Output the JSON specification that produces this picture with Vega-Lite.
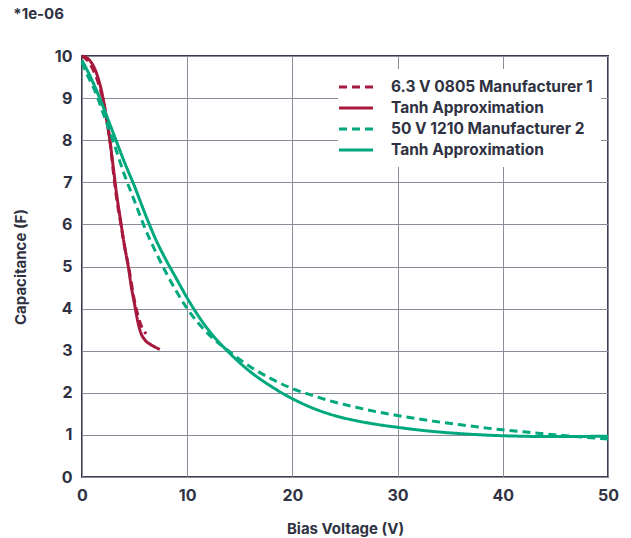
{
  "$schema": "https://vega.github.io/schema/vega-lite/v6.json",
  "width": 526,
  "height": 421,
  "autosize": "none",
  "padding": {"left": 82, "top": 56, "right": 23, "bottom": 61},
  "background": "white",
  "config": {
    "font": "Inter",
    "view": {"stroke": "#3b3e50", "strokeWidth": 2},
    "axis": {
      "labelFont": "Inter", "labelFontWeight": "bold", "labelFontSize": 16, "labelColor": "#2f3242",
      "titleFont": "Inter", "titleFontWeight": "bold", "titleFontSize": 15, "titleColor": "#2f3242",
      "gridColor": "#8a8c9a", "gridWidth": 1, "gridOpacity": 1, "domain": false, "ticks": false, "labelFlush": false
    },
    "legend": {"labelFont": "Inter", "labelFontWeight": "bold", "labelFontSize": 15.5, "labelColor": "#2f3242", "labelLimit": 400}
  },
  "title": {"text": "*1e-06", "anchor": "start", "frame": "bounds", "font": "Inter", "fontSize": 15, "fontWeight": "bold", "color": "#2f3242", "offset": 26},
  "data": {"values": [
    {"s":"t1","v":0,"c":10},{"s":"t1","v":0.5,"c":9.95},{"s":"t1","v":1,"c":9.8},{"s":"t1","v":1.5,"c":9.5},{"s":"t1","v":2,"c":9.0},{"s":"t1","v":2.4,"c":8.4},{"s":"t1","v":2.7,"c":7.9},{"s":"t1","v":3.0,"c":7.3},{"s":"t1","v":3.3,"c":6.7},{"s":"t1","v":3.6,"c":6.2},{"s":"t1","v":4.0,"c":5.55},{"s":"t1","v":4.4,"c":5.0},{"s":"t1","v":4.7,"c":4.5},{"s":"t1","v":5.0,"c":4.1},{"s":"t1","v":5.3,"c":3.7},{"s":"t1","v":5.6,"c":3.42},{"s":"t1","v":6.0,"c":3.25},{"s":"t1","v":6.5,"c":3.15},{"s":"t1","v":7.0,"c":3.08},{"s":"t1","v":7.4,"c":3.03},
    {"s":"m1","v":0,"c":10},{"s":"m1","v":0.5,"c":9.9},{"s":"m1","v":1,"c":9.7},{"s":"m1","v":1.5,"c":9.4},{"s":"m1","v":2,"c":8.95},{"s":"m1","v":2.4,"c":8.45},{"s":"m1","v":2.7,"c":7.9},{"s":"m1","v":3.0,"c":7.2},{"s":"m1","v":3.3,"c":6.6},{"s":"m1","v":3.7,"c":6.0},{"s":"m1","v":4.1,"c":5.4},{"s":"m1","v":4.5,"c":4.9},{"s":"m1","v":4.9,"c":4.3},{"s":"m1","v":5.3,"c":3.85},{"s":"m1","v":5.7,"c":3.55},{"s":"m1","v":6.1,"c":3.4},
    {"s":"t2","v":0,"c":9.9},{"s":"t2","v":1,"c":9.4},{"s":"t2","v":2,"c":8.8},{"s":"t2","v":3,"c":8.15},{"s":"t2","v":4,"c":7.5},{"s":"t2","v":5,"c":6.9},{"s":"t2","v":6,"c":6.25},{"s":"t2","v":7,"c":5.65},{"s":"t2","v":8,"c":5.15},{"s":"t2","v":9,"c":4.7},{"s":"t2","v":10,"c":4.25},{"s":"t2","v":12,"c":3.5},{"s":"t2","v":14,"c":2.95},{"s":"t2","v":16,"c":2.5},{"s":"t2","v":18,"c":2.15},{"s":"t2","v":20,"c":1.86},{"s":"t2","v":22,"c":1.63},{"s":"t2","v":24,"c":1.46},{"s":"t2","v":26,"c":1.34},{"s":"t2","v":28,"c":1.25},{"s":"t2","v":30,"c":1.18},{"s":"t2","v":33,"c":1.09},{"s":"t2","v":36,"c":1.03},{"s":"t2","v":40,"c":0.98},{"s":"t2","v":45,"c":0.96},{"s":"t2","v":50,"c":0.97},
    {"s":"m2","v":0,"c":9.85},{"s":"m2","v":0.5,"c":9.55},{"s":"m2","v":1,"c":9.3},{"s":"m2","v":1.5,"c":9.0},{"s":"m2","v":2,"c":8.65},{"s":"m2","v":3,"c":7.95},{"s":"m2","v":4,"c":7.2},{"s":"m2","v":5,"c":6.55},{"s":"m2","v":6,"c":5.9},{"s":"m2","v":7,"c":5.35},{"s":"m2","v":8,"c":4.85},{"s":"m2","v":9,"c":4.4},{"s":"m2","v":10,"c":4.0},{"s":"m2","v":12,"c":3.4},{"s":"m2","v":14,"c":2.98},{"s":"m2","v":16,"c":2.62},{"s":"m2","v":18,"c":2.33},{"s":"m2","v":20,"c":2.1},{"s":"m2","v":22,"c":1.93},{"s":"m2","v":24,"c":1.78},{"s":"m2","v":26,"c":1.66},{"s":"m2","v":28,"c":1.55},{"s":"m2","v":30,"c":1.46},{"s":"m2","v":33,"c":1.34},{"s":"m2","v":36,"c":1.24},{"s":"m2","v":40,"c":1.12},{"s":"m2","v":43,"c":1.05},{"s":"m2","v":46,"c":0.98},{"s":"m2","v":50,"c":0.9}
  ]},
  "mark": {"type": "line", "strokeWidth": 3, "interpolate": "monotone"},
  "encoding": {
    "x": {"field": "v", "type": "quantitative", "scale": {"domain": [0, 50], "nice": false}, "axis": {"values": [0,10,20,30,40,50], "title": "Bias Voltage (V)", "labelPadding": 10, "titlePadding": 18}},
    "y": {"field": "c", "type": "quantitative", "scale": {"domain": [0, 10], "nice": false}, "axis": {"values": [0,1,2,3,4,5,6,7,8,9,10], "title": "Capacitance (F)", "labelPadding": 10, "titlePadding": 26}},
    "color": {"field": "s", "type": "nominal", "scale": {"domain": ["m1","t1","m2","t2"], "range": ["#a6193c","#a6193c","#00a87e","#00a87e"]},
      "legend": {"title": null, "orient": "none", "legendX": 256, "legendY": 13, "fillColor": "white", "padding": 8, "rowPadding": 2, "symbolType": "M-2,0L2,0", "symbolSize": 289, "symbolStrokeWidth": 3, "labelOffset": 25,
        "labelExpr": "datum.value == 'm1' ? '6.3 V 0805 Manufacturer 1' : datum.value == 'm2' ? '50 V 1210 Manufacturer 2' : 'Tanh Approximation'"}},
    "strokeDash": {"field": "s", "type": "nominal", "scale": {"domain": ["m1","t1","m2","t2"], "range": [[8,5],[1,0],[8,5],[1,0]]},
      "legend": {"title": null, "orient": "none", "legendX": 256, "legendY": 13, "fillColor": "white", "padding": 8, "rowPadding": 2, "symbolType": "M-2,0L2,0", "symbolSize": 289, "symbolStrokeWidth": 3, "labelOffset": 25,
        "labelExpr": "datum.value == 'm1' ? '6.3 V 0805 Manufacturer 1' : datum.value == 'm2' ? '50 V 1210 Manufacturer 2' : 'Tanh Approximation'"}}
  }
}
